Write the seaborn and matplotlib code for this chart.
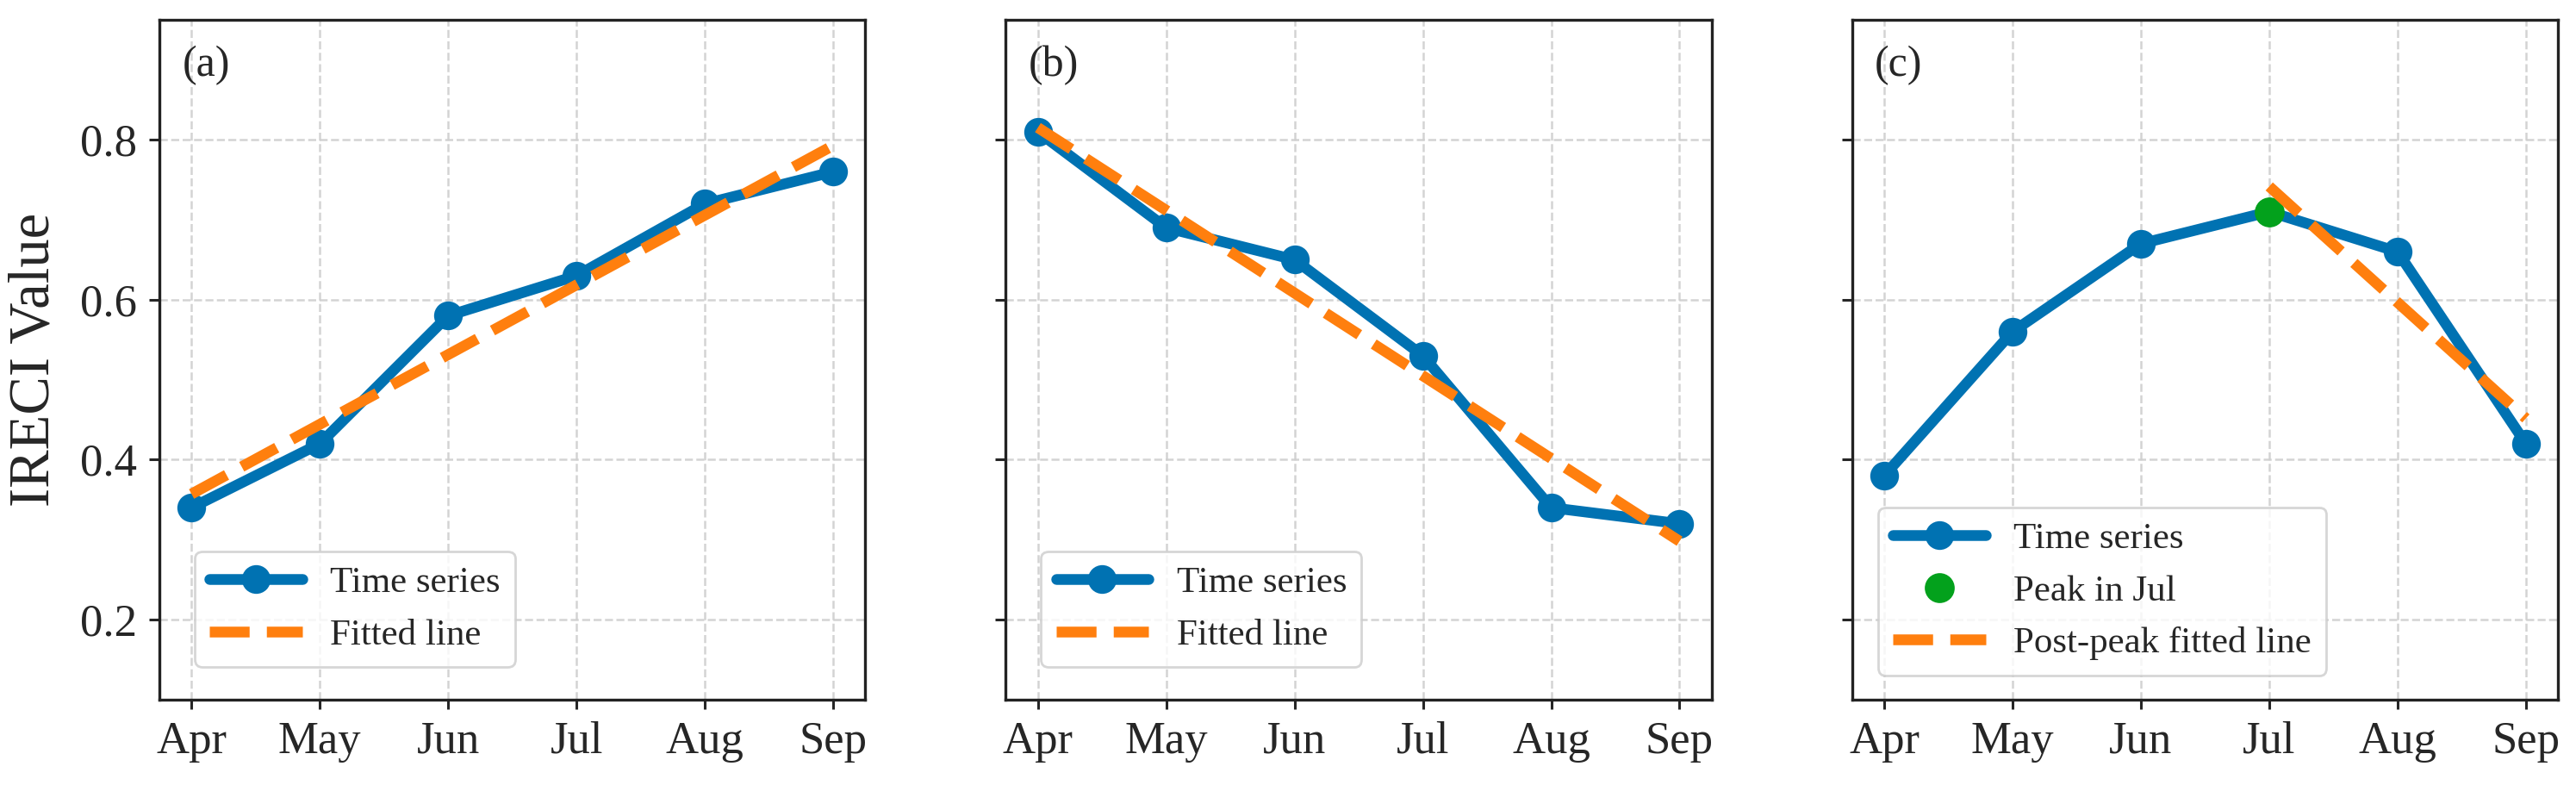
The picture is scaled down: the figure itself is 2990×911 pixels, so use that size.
import numpy as np
import pandas as pd
import seaborn as sns
import matplotlib.pyplot as plt

# values
months = ["Apr", "May", "Jun", "Jul", "Aug", "Sep"]
ireci_a = [0.34, 0.42, 0.58, 0.63, 0.72, 0.76]
ireci_b = [0.81, 0.69, 0.65, 0.53, 0.34, 0.32]
ireci_c = [0.38, 0.56, 0.67, 0.71, 0.66, 0.42]
panel_tags = ["(a)", "(b)", "(c)"]

BLUE = "#0072B2"
ORANGE = "#FF7F0E"
GREEN = "#03A11C"

sns.set_theme(style="ticks", rc={"axes.linewidth": 1.2, "axes.edgecolor": "#222222"})
plt.rcParams["font.family"] = ["Liberation Serif", "DejaVu Serif"]
plt.rcParams["xtick.major.size"] = 4
plt.rcParams["ytick.major.size"] = 4.5
plt.rcParams["xtick.major.width"] = 1.1
plt.rcParams["ytick.major.width"] = 1.1

fig, axes = plt.subplots(1, 3, figsize=(14.95, 4.555), dpi=200, sharey=True)
fig.subplots_adjust(left=0.0619, right=0.993, bottom=0.1087, top=0.9748, wspace=0.199)

x = np.arange(len(months))
series = [ireci_a, ireci_b, ireci_c]
legend_anchor = [(0.05, 0.048), (0.05, 0.048), (0.037, 0.036)]

for i, (ax, vals) in enumerate(zip(axes, series)):
    df = pd.DataFrame({"x": x, "ireci": vals})
    sns.lineplot(data=df, x="x", y="ireci", ax=ax, color=BLUE, lw=4.5,
                 marker="o", markersize=12, markeredgewidth=0,
                 label="Time series", zorder=3)
    if i < 2:
        # linear fit over the whole season
        k, b = np.polyfit(df["x"], df["ireci"], 1)
        ax.plot(df["x"], k * df["x"] + b, ls="--", color=ORANGE, lw=4.5,
                label="Fitted line", zorder=4)
    else:
        peak = int(np.argmax(vals))
        ax.plot(x[peak], vals[peak], "o", color=GREEN, markersize=12.5,
                markeredgewidth=0, ls="none", label=f"Peak in {months[peak]}", zorder=4)
        post = df.iloc[peak:]
        k, b = np.polyfit(post["x"], post["ireci"], 1)
        ax.plot(post["x"], k * post["x"] + b, ls="--", color=ORANGE, lw=4.5,
                label="Post-peak fitted line", zorder=5)

    ax.set_xlim(-0.25, 5.25)
    ax.set_ylim(0.1, 0.95)
    ax.set_xticks(x)
    ax.set_xticklabels(months)
    ax.set_yticks([0.2, 0.4, 0.6, 0.8])
    ax.tick_params(labelsize=19, pad=5)
    ax.grid(True, ls="--", lw=0.9, color="#cfcfcf", alpha=0.9)
    ax.set_xlabel("")
    ax.set_ylabel("")
    ax.text(0.032, 0.933, panel_tags[i], transform=ax.transAxes,
            fontsize=18, ha="left", va="center")
    ax.legend(loc="lower left", bbox_to_anchor=legend_anchor[i], borderaxespad=0,
              fontsize=15.5, handlelength=2.5, handletextpad=0.75, framealpha=0.8)

axes[0].set_ylabel("IRECI Value", fontsize=24, labelpad=8)

plt.savefig("out.png", dpi=200)
